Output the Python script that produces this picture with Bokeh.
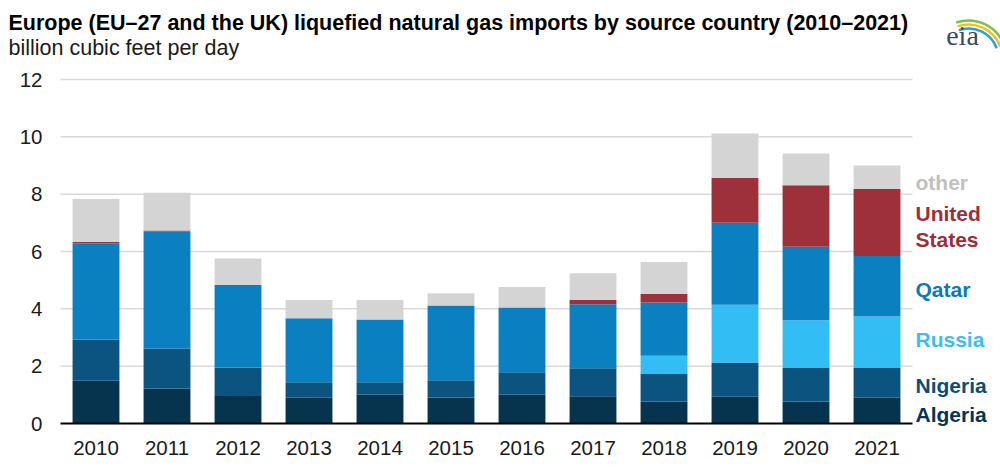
from bokeh.plotting import figure
from bokeh.models import ColumnDataSource, Range1d, FixedTicker
from bokeh.core.properties import value
from bokeh.embed import file_html
from bokeh.resources import INLINE

# ---- data ----
years = ["2010", "2011", "2012", "2013", "2014", "2015", "2016", "2017", "2018", "2019", "2020", "2021"]
algeria = [1.49, 1.22, 0.96, 0.90, 1.00, 0.91, 1.00, 0.95, 0.77, 0.93, 0.77, 0.90]
nigeria = [1.44, 1.40, 0.99, 0.54, 0.44, 0.60, 0.79, 0.98, 0.97, 1.20, 1.17, 1.04]
russia = [0.00, 0.00, 0.00, 0.00, 0.00, 0.00, 0.00, 0.00, 0.62, 2.01, 1.66, 1.79]
qatar = [3.35, 4.09, 2.88, 2.23, 2.19, 2.61, 2.26, 2.23, 1.86, 2.86, 2.57, 2.11]
united_states = [0.05, 0.02, 0.00, 0.00, 0.00, 0.00, 0.00, 0.15, 0.31, 1.56, 2.14, 2.34]
other = [1.50, 1.32, 0.93, 0.64, 0.68, 0.42, 0.71, 0.93, 1.10, 1.56, 1.11, 0.82]
y_ticks = [0, 2, 4, 6, 8, 10, 12]
y_tick_labels = ["0", "2", "4", "6", "8", "10", "12"]
legend_labels = ["other", "United", "States", "Qatar", "Russia", "Nigeria", "Algeria"]

series = ["algeria", "nigeria", "russia", "qatar", "united_states", "other"]
colors = ["#06344f", "#0b5480", "#33bdf5", "#0a80c0", "#9e3039", "#d4d4d4"]

idx = list(range(len(years)))
src = ColumnDataSource(dict(idx=idx, algeria=algeria, nigeria=nigeria, russia=russia,
                            qatar=qatar, united_states=united_states, other=other))

FONT = "Liberation Sans"
W, H = 1000, 469
BOTTOM_BORDER = 37
SX = 71.0            # pixels per category
SY = 344.0 / 12.0    # pixels per unit
ZERO_PX = 423        # canvas row of the zero line
X_START = -0.5 - 60.0 / SX


def px_x(px):
    return X_START + px / SX


def px_y(py):
    return (ZERO_PX - py) / SY


p = figure(width=W, height=H, output_backend="svg", toolbar_location=None,
           x_range=Range1d(X_START, X_START + W / SX),
           y_range=Range1d(px_y(H - BOTTOM_BORDER), px_y(0)),
           y_axis_location=None, min_border=0, min_border_bottom=BOTTOM_BORDER,
           title=None)
p.outline_line_color = None
p.xgrid.grid_line_color = None
p.ygrid.grid_line_color = None

# gridlines and baseline
n = len(years)
p.segment(x0=[-0.5] * (len(y_ticks) - 1), x1=[n - 0.5] * (len(y_ticks) - 1),
          y0=y_ticks[1:], y1=y_ticks[1:], line_color="#d9d9d9", line_width=1.5)

p.vbar_stack(series, x="idx", width=0.66, color=colors, line_color=None, source=src)

p.segment(x0=[-0.5], x1=[n - 0.5], y0=[y_ticks[0]], y1=[y_ticks[0]], line_color="black", line_width=2)

# y tick labels
p.text(x=[px_x(42)] * len(y_ticks), y=y_ticks, text=y_tick_labels, text_font=value(FONT),
       text_font_size="20.5px", text_color="#1a1a1a", text_align="right", text_baseline="middle")

# x axis
p.xaxis.ticker = FixedTicker(ticks=idx)
p.xaxis.major_label_overrides = {i: y for i, y in zip(idx, years)}
p.xaxis.axis_line_color = None
p.xaxis.major_tick_line_color = None
p.xaxis.minor_tick_line_color = None
p.xaxis.major_label_standoff = 2
p.xaxis.major_label_text_font = FONT
p.xaxis.major_label_text_font_size = "20.5px"
p.xaxis.major_label_text_color = "#1a1a1a"

# title and subtitle
p.text(x=[px_x(8)], y=[px_y(22)],
       text=["Europe (EU\u201327 and the UK) liquefied natural gas imports by source country (2010\u20132021)"],
       text_font=value(FONT), text_font_size="21.5px", text_font_style="bold", text_color="#000000",
       text_align="left", text_baseline="middle")
p.text(x=[px_x(8)], y=[px_y(47)], text=["billion cubic feet per day"],
       text_font=value(FONT), text_font_size="21.5px", text_color="#1a1a1a",
       text_align="left", text_baseline="middle")

# direct labels on the right
legend_rows = [182, 213, 239, 289, 339, 385, 414]
legend_colors = ["#c0c0c0", "#9b2f38", "#9b2f38", "#0e7ab5", "#3cbef0", "#0b4d73", "#07344f"]
p.text(x=[px_x(915)] * len(legend_labels), y=[px_y(r) for r in legend_rows], text=legend_labels,
       text_color=legend_colors, text_font=value(FONT), text_font_size="21px", text_font_style="bold",
       text_align="left", text_baseline="middle")

# eia logo
p.arc(x=[px_x(968)] * 3, y=[px_y(58)] * 3, radius=[30, 34, 38], radius_units="screen",
      start_angle=0.35, end_angle=1.9, line_color=["#2a9fd8", "#f2c318", "#7cc142"], line_width=2.5)
p.text(x=[px_x(962)], y=[px_y(35)], text=["eia"], text_font=value("Liberation Serif"),
       text_font_size="28px", text_color="#3b4a5c", text_align="center", text_baseline="middle")

open("out.html", "w").write(file_html(p, INLINE))
